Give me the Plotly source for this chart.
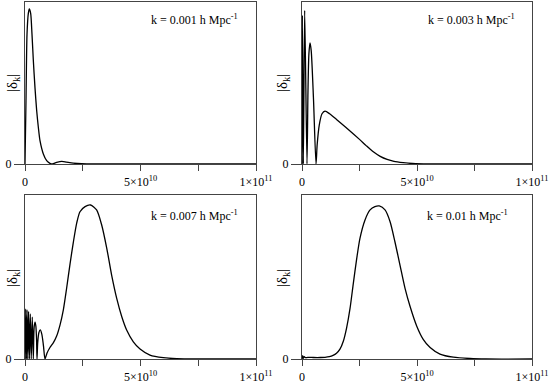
import numpy as np
import plotly.graph_objects as go

W, H = 549, 383

# ---------------- data (x in units of 1e9, y normalised to panel height) ----------------
labels = ["k = 0.001 h Mpc<sup>-1</sup>", "k = 0.003 h Mpc<sup>-1</sup>",
          "k = 0.007 h Mpc<sup>-1</sup>", "k = 0.01 h Mpc<sup>-1</sup>"]

p1_x = [0, 0.43, 0.87, 1.44, 1.87, 2.45, 3.03, 3.6, 4.33, 5.05, 5.77, 6.49, 7.94, 9.38,
        10.8, 11.5, 13.7, 15.9, 18.0, 20.9, 24.5, 29.6, 100]
p1_y = [0, 0.39, 0.80, 0.93, 0.957, 0.93, 0.80, 0.64, 0.47, 0.33, 0.227, 0.144, 0.062, 0.021,
        0.004, 0, 0.01, 0.0165, 0.012, 0.006, 0.002, 0, 0]

p2_x = [0, 0.15, 0.58, 1.16, 2.17, 2.6, 3.0, 3.48, 4.0, 5.0, 6.09, 6.6, 7.5, 8.7, 10.0,
        12.0, 15.0, 20.0, 25.0, 28.0, 31.0, 34.0, 37.0, 40.0, 44.0, 48.0, 55.0, 100]
p2_y = [0, 0.918, 0, 0.948, 0, 0.45, 0.68, 0.748, 0.70, 0.40, 0, 0.12, 0.24, 0.31, 0.326,
        0.31, 0.275, 0.215, 0.152, 0.112, 0.075, 0.047, 0.028, 0.016, 0.008, 0.003, 0, 0]

p3_x = [0, 0.3, 0.6, 0.9, 1.2, 1.55, 1.9, 2.3, 2.7, 3.15, 3.6, 3.8, 4.0, 4.35, 4.7, 5.0, 5.2,
        5.5, 6.0, 6.6, 7.3, 8.0, 8.66, 9.5, 10.8, 12.3, 13.7, 15.2, 16.6, 18.0, 19.5, 20.9,
        22.4, 23.8, 26.0, 28.4, 31.0, 33.2, 35.4, 37.5, 39.7, 41.9, 44.0, 46.9, 49.8, 54.1,
        59.9, 65.7, 75, 100]
p3_y = [0, 0.305, 0, 0.30, 0, 0.29, 0, 0.275, 0, 0.255, 0, 0.14, 0.2, 0.225, 0.2, 0.12, 0,
        0.1, 0.16, 0.177, 0.15, 0.08, 0, 0.035, 0.07, 0.10, 0.14, 0.21, 0.30, 0.43, 0.58, 0.71,
        0.83, 0.898, 0.929, 0.939, 0.909, 0.817, 0.675, 0.512, 0.37, 0.258, 0.177, 0.105,
        0.061, 0.024, 0.008, 0.002, 0, 0]

p4_x = [0, 0.3, 0.6, 1.0, 1.5, 2.5, 5, 8, 10, 11.9, 13.5, 15.0, 16.5, 18.0, 19.4, 20.9, 22.3,
        23.8, 25.2, 27.4, 29.6, 31.7, 33.6, 36.1, 38.3, 40.4, 42.6, 44.8, 47.0, 49.9, 52.7,
        55.7, 60, 65.8, 73, 80, 100]
p4_y = [0, 0.02, 0.004, 0.014, 0.008, 0.01, 0.009, 0.009, 0.01, 0.014, 0.022, 0.035, 0.06,
        0.11, 0.19, 0.31, 0.46, 0.614, 0.736, 0.848, 0.909, 0.929, 0.933, 0.909, 0.837, 0.715,
        0.573, 0.431, 0.32, 0.2, 0.12, 0.07, 0.03, 0.011, 0.003, 0, 0]

x_tickvals = [0, 5e10, 1e11]
x_ticktext = ["0", "5×10<sup>10</sup>", "1×10<sup>11</sup>"]
x_minor_step = 2.5e10
y_title = "|δ<sub>k</sub>|"

# ---------------- layout geometry (pixels) ----------------
cols = [(25, 256), (302, 532)]
rows = [(2, 164), (195, 359)]
ann_pos = [(0.93, 0.89), (0.935, 0.89), (0.93, 0.878), (0.905, 0.878)]
ytitle_px = [(13, 83), (283, 83), (13, 278), (283, 278)]

FONT = "Liberation Serif"
LINE = "#444444"

series = [(p1_x, p1_y), (p2_x, p2_y), (p3_x, p3_y), (p4_x, p4_y)]

fig = go.Figure()
layout = dict(
    width=W, height=H, margin=dict(l=0, r=0, t=0, b=0, autoexpand=False),
    paper_bgcolor="white", plot_bgcolor="white", showlegend=False,
    font=dict(family=FONT, color="black", size=11),
    annotations=[],
)

for i, (xs, ys) in enumerate(series):
    r, c = divmod(i, 2)
    n = "" if i == 0 else str(i + 1)
    xa, ya = "x" + n, "y" + n
    fig.add_trace(go.Scatter(
        x=np.array(xs) * 1e9, y=ys, mode="lines", xaxis=xa, yaxis=ya,
        line=dict(color="black", width=1.3, shape="spline", smoothing=0.7),
        hoverinfo="skip"))
    x0, x1 = cols[c]
    y0, y1 = rows[r]
    layout["xaxis" + n] = dict(
        domain=[x0 / W, x1 / W], anchor=ya, range=[0, 1e11], automargin=False,
        tickvals=x_tickvals, ticktext=x_ticktext, ticks="outside", ticklen=6,
        tickcolor=LINE, tickwidth=1, showline=True, mirror=True, linecolor=LINE,
        linewidth=1.3, showgrid=False, zeroline=False,
        minor=dict(dtick=x_minor_step, tick0=0, ticks="outside", ticklen=6,
                   tickcolor=LINE, tickwidth=1, showgrid=False),
        tickfont=dict(family=FONT, size=12, color="black"))
    layout["yaxis" + n] = dict(
        domain=[1 - y1 / H, 1 - y0 / H], anchor=xa, range=[0, 1], automargin=False,
        tickvals=[0], ticktext=["0"], ticks="outside", ticklen=10,
        tickcolor=LINE, tickwidth=1.3, showline=True, mirror=True, linecolor=LINE,
        linewidth=1.3, showgrid=False, zeroline=False,
        tickfont=dict(family=FONT, size=12, color="black"))
    ax, ay = ann_pos[i]
    layout["annotations"].append(dict(
        text=labels[i], xref=xa + " domain", yref=ya + " domain", x=ax, y=ay,
        xanchor="right", yanchor="middle", showarrow=False,
        font=dict(family=FONT, size=12, color="black")))
    tx, ty = ytitle_px[i]
    layout["annotations"].append(dict(
        text=y_title, xref="paper", yref="paper", x=tx / W, y=1 - ty / H,
        xanchor="center", yanchor="middle", textangle=-90, showarrow=False,
        font=dict(family=FONT, size=15, color="black")))

fig.update_layout(**layout)
fig.write_html(
    "out.html",
    config={"displayModeBar": False},
    post_script="document.body.style.margin='0';document.body.style.overflow='hidden';",
)
